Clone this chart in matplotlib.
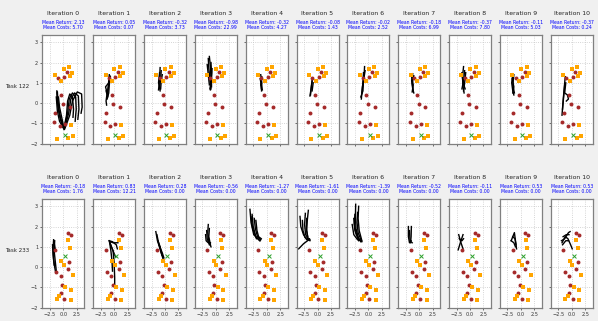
import numpy as np
import matplotlib
matplotlib.use("Agg")
import matplotlib.pyplot as plt

# per-task layout: obstacles (red), hazards (orange), goal (green x)
tasks = ["Task 122", "Task 233"]

red_122 = [(0.68, 1.51), (-0.99, 1.23), (0.19, 1.28), (-0.43, 0.41), (-0.12, -0.05),
           (1.17, -0.21), (-1.48, -0.51), (-1.79, -0.95), (-0.68, -1.15), (0.25, -1.03)]
orange_122 = [(0.06, 1.70), (1.05, 1.80), (-1.6, 1.39), (1.6, 1.48), (1.17, 1.36),
              (-0.37, 1.11), (1.36, -1.1), (-1.17, -1.77), (0.93, -1.7), (1.73, -1.64)]
goal_122 = (0.25, -1.57)

red_233 = [(0.85, 1.69), (1.4, 1.58), (-1.55, 0.85), (1.08, 0.26), (0.83, -0.08),
           (-1.33, -0.26), (-0.5, -0.42), (-0.25, -0.89), (-0.5, -1.26), (0.18, -1.59)]
orange_233 = [(0.87, 1.36), (1.23, 0.92), (-0.4, 0.3), (0.12, 0.1), (1.8, -0.41),
              (0.34, -0.99), (1.42, -1.14), (-0.77, -1.42), (-1.17, -1.59), (1.36, -1.64)]
goal_233 = (0.4, 0.55)

returns_122 = [2.13, 0.05, -0.32, -0.98, -0.32, -0.08, -0.02, -0.18, -0.37, -0.11, -0.37]
costs_122 = [5.70, 0.07, 3.73, 22.99, 4.27, 1.43, 2.52, 6.99, 7.80, 5.03, 0.24]
returns_233 = [-0.18, 0.83, 0.28, -0.56, -1.27, -1.61, -1.39, -0.52, -0.11, 0.53, 0.53]
costs_233 = [1.76, 12.21, 0.00, 0.00, 0.00, 0.00, 0.00, 0.00, 0.00, 0.00, 0.00]

# rollouts, rough hand-traced paths per iteration
traj_122 = [
    [[(0.1, -1.25), (-0.5, -0.8), (-0.9, -0.3), (-1.1, 0.2), (-1.2, 0.6)],
     [(0.0, -1.2), (-0.6, -0.7), (-1.0, -0.1), (-1.15, 0.5)],
     [(0.2, -1.3), (-0.4, -0.9), (-0.8, -0.4), (-1.0, 0.1), (-1.1, 0.55)],
     [(0.1, -1.2), (-0.3, -0.7), (-0.7, -0.2), (-0.9, 0.3)],
     [(0.15, -1.3), (-0.7, -0.9), (-1.1, -0.4), (-1.3, 0.3)],
     [(0.1, -1.25), (0.6, -0.6), (0.8, 0.1), (1.2, 0.45), (1.7, 0.3), (1.9, -0.3), (1.8, -0.7)],
     [(0.2, -1.2), (0.8, -0.5), (1.1, 0.2), (1.7, 0.5), (2.3, 0.3), (2.4, -0.3), (2.2, -0.9)],
     [(0.3, -1.2), (1.0, -0.5), (1.4, 0.2), (2.1, 0.5), (2.8, 0.35), (2.9, -0.3), (2.7, -0.8)],
     [(0.3, -1.25), (1.2, -0.6), (1.7, 0.1), (2.6, 0.55), (3.4, 0.45), (3.5, -0.2), (3.3, -0.5)]],
    [[(-0.8, 1.35), (-1.0, 0.9), (-1.3, 0.5), (-1.5, 0.1), (-1.4, -0.1)],
     [(-0.9, 1.4), (-1.1, 0.8), (-1.2, 0.3), (-1.5, 0.6)],
     [(-0.7, 1.3), (-0.9, 0.9), (-1.0, 0.5), (-1.3, 0.2)],
     [(-1.0, 1.0), (-1.6, 0.8), (-1.3, 0.5)]],
    [[(-0.9, 1.75), (-1.0, 1.3), (-1.1, 0.9), (-1.2, 0.65)],
     [(-0.7, 1.6), (-0.8, 1.2), (-1.0, 0.8), (-0.9, 0.6)],
     [(-0.5, 1.4), (-0.7, 1.1), (-0.8, 0.7)],
     [(-1.0, 1.5), (-1.2, 1.0), (-0.9, 0.7)]],
    [[(-1.4, 2.2), (-1.3, 1.7), (-1.1, 1.2), (-0.9, 0.7)],
     [(-1.2, 2.3), (-1.0, 1.8), (-0.9, 1.2), (-1.0, 0.65)],
     [(-0.9, 2.0), (-0.8, 1.5), (-0.9, 1.0), (-1.1, 0.7)],
     [(-1.6, 1.9), (-1.4, 1.4), (-1.2, 0.9)],
     [(-0.7, 1.7), (-0.8, 1.2), (-0.8, 0.8)]],
    [[(-1.1, 1.4), (-0.9, 1.0), (-0.95, 0.6)],
     [(-1.2, 1.2), (-1.0, 0.9), (-0.8, 0.65)],
     [(-0.9, 1.3), (-1.1, 0.9), (-1.0, 0.7)]],
    [[(-0.9, 1.25), (-1.1, 0.9), (-1.3, 0.4)],
     [(-1.0, 1.1), (-1.2, 0.7), (-1.4, 0.35)],
     [(-0.8, 1.0), (-1.0, 0.6)]],
    [[(-0.7, 1.8), (-0.8, 1.3), (-1.1, 0.8), (-1.3, 0.2)],
     [(-0.9, 1.5), (-1.0, 1.0), (-1.2, 0.5)],
     [(-0.6, 1.6), (-0.9, 1.1), (-1.0, 0.6), (-1.4, 0.3)]],
    [[(-1.2, 1.45), (-1.4, 1.1), (-1.2, 0.7), (-1.0, 0.5)],
     [(-1.0, 1.35), (-1.3, 1.0), (-1.1, 0.6)],
     [(-1.4, 1.3), (-1.1, 0.9), (-1.3, 0.55)]],
    [[(-1.2, 1.8), (-1.4, 1.3), (-1.3, 0.8), (-1.1, 0.5)],
     [(-1.0, 1.6), (-1.2, 1.1), (-1.5, 0.7)],
     [(-0.8, 1.5), (-1.0, 1.0), (-1.2, 0.6)],
     [(-1.5, 1.5), (-1.3, 1.0), (-0.9, 0.7)]],
    [[(-1.5, 1.45), (-1.7, 1.0), (-1.5, 0.6), (-1.3, 0.4)],
     [(-1.3, 1.4), (-1.5, 0.9), (-1.2, 0.5)],
     [(-1.6, 1.2), (-1.3, 0.8), (-1.5, 0.5)]],
    [[(-1.2, 1.3), (-1.4, 0.7), (-1.6, 0.1), (-1.8, -0.6)],
     [(-1.1, 1.0), (-1.3, 0.5), (-0.8, 0.4), (-0.6, 0.2), (-1.0, 0.1)],
     [(-1.3, 0.9), (-1.5, 0.3), (-1.7, -0.3)]],
]

traj_233 = [
    [[(-1.8, 1.35), (-1.9, 0.9), (-1.8, 0.4), (-1.6, 0.0), (-1.4, -0.3)],
     [(-1.6, 1.3), (-1.7, 0.8), (-1.5, 0.3), (-1.3, -0.2)],
     [(-2.0, 1.1), (-1.9, 0.6), (-1.7, 0.1)],
     [(-1.7, 1.2), (-1.5, 0.9)]],
    [[(-0.9, 1.3), (-0.3, 1.25), (0.4, 1.1), (0.6, 0.9)],
     [(-0.9, 1.3), (-0.6, 0.8), (-0.4, 0.3), (-0.3, -0.2)],
     [(-0.8, 1.2), (-0.2, 0.8), (0.0, 0.2), (0.1, -0.5), (0.1, -0.95)],
     [(-0.9, 1.3), (-0.5, 1.0), (0.1, 0.6), (0.3, 0.5)],
     [(-0.7, 1.25), (-0.2, 1.2), (0.7, 1.2)]],
    [[(-1.7, 1.75), (-1.4, 1.3), (-0.9, 0.9), (-0.4, 0.5)],
     [(-1.5, 1.6), (-1.2, 1.2), (-0.8, 0.8), (-0.3, 0.35)],
     [(-1.3, 1.3), (-0.9, 1.0), (-0.6, 0.6)],
     [(-1.1, 1.1), (-0.5, 0.7), (-0.2, 0.45)]],
    [[(-1.4, 2.1), (-1.5, 1.7), (-1.3, 1.3), (-0.9, 1.0)],
     [(-1.7, 1.8), (-1.6, 1.4), (-1.2, 1.1)],
     [(-1.9, 1.6), (-1.8, 1.3), (-1.4, 1.2), (-1.0, 1.2)],
     [(-1.2, 1.9), (-1.3, 1.5), (-1.0, 1.1)]],
    [[(-3.1, 2.85), (-2.9, 2.2), (-2.4, 1.6), (-1.3, 1.3)],
     [(-2.7, 2.6), (-2.5, 2.0), (-2.0, 1.5), (-1.2, 1.3)],
     [(-2.3, 2.4), (-2.1, 1.9), (-1.7, 1.5), (-1.1, 1.35)],
     [(-2.0, 2.3), (-1.8, 1.8), (-1.5, 1.5), (-1.0, 1.4)],
     [(-2.9, 2.5), (-2.6, 1.9), (-1.9, 1.4)]],
    [[(-3.25, 2.5), (-3.1, 2.0), (-2.6, 1.6), (-2.0, 1.35), (-1.4, 1.35)],
     [(-2.25, 2.65), (-2.4, 2.1), (-2.2, 1.6), (-1.6, 1.35)],
     [(-1.7, 2.8), (-1.9, 2.3), (-2.0, 1.8), (-1.8, 1.4), (-1.4, 1.3)],
     [(-2.8, 2.3), (-2.7, 1.8), (-2.3, 1.45), (-1.5, 1.4)],
     [(-1.6, 1.35), (-2.6, 1.15), (-3.5, 0.9)],
     [(-2.0, 2.4), (-2.1, 1.9), (-1.8, 1.5)]],
    [[(-2.35, 3.1), (-2.4, 2.5), (-2.3, 1.9), (-1.8, 1.4), (-1.2, 1.25)],
     [(-2.5, 2.6), (-2.6, 2.1), (-2.2, 1.6), (-1.4, 1.25)],
     [(-3.0, 2.1), (-2.7, 1.6), (-2.0, 1.35), (-1.3, 1.3)],
     [(-2.0, 2.7), (-2.1, 2.2), (-1.9, 1.7), (-1.3, 1.3)],
     [(-2.7, 2.4), (-2.5, 1.8), (-1.8, 1.3)],
     [(-1.8, 3.0), (-1.9, 2.4), (-1.7, 1.8), (-1.2, 1.3)]],
    [[(-2.0, 2.0), (-2.0, 1.5), (-1.8, 1.2), (-1.5, 1.3)],
     [(-1.45, 2.0), (-1.5, 1.5), (-1.6, 1.2)],
     [(-1.8, 1.8), (-1.7, 1.3), (-1.3, 1.2)]],
    [[(-2.1, 1.6), (-1.8, 1.3), (-1.3, 0.9)],
     [(-1.3, 1.6), (-1.8, 1.2), (-2.2, 0.85)],
     [(-2.0, 1.4), (-1.5, 1.3), (-1.2, 1.4)]],
    [[(-1.8, 1.3), (-1.2, 1.7), (-1.0, 1.3), (-0.8, 0.9)],
     [(-1.8, 1.3), (-1.3, 1.2), (-1.0, 1.0)],
     [(-1.5, 1.5), (-1.1, 1.4), (-0.9, 1.1)]],
    [[(-1.9, 1.3), (-1.3, 1.4), (-0.6, 1.7), (-0.3, 1.75)],
     [(-1.8, 1.2), (-1.2, 1.5), (-0.7, 1.4), (-0.2, 1.1), (0.1, 0.9)],
     [(-1.6, 1.5), (-1.0, 1.6), (-0.5, 1.6)],
     [(-1.7, 1.1), (-1.1, 1.3), (-0.6, 1.3)]],
]

rows = [
    (red_122, orange_122, goal_122, returns_122, costs_122, traj_122),
    (red_233, orange_233, goal_233, returns_233, costs_233, traj_233),
]

W, H = 598, 321
fig = plt.figure(figsize=(W / 100, H / 100), dpi=100, facecolor="#f0f0f0")

col_left = 42.3
col_step = 50.84
ax_w = 42
row_top = [35, 199]
ax_h = 109

for r, (red, orange, goal, rets, costs, trajs) in enumerate(rows):
    for i in range(11):
        left = (col_left + i * col_step) / W
        bottom = 1 - (row_top[r] + ax_h) / H
        ax = fig.add_axes([left, bottom, ax_w / W, ax_h / H])
        ax.set_facecolor("white")
        for t in trajs[i]:
            t = np.array(t)
            ax.plot(t[:, 0], t[:, 1], color="black", lw=1.0, zorder=2)
        rd = np.array(red)
        og = np.array(orange)
        ax.scatter(rd[:, 0], rd[:, 1], s=8, color="#a52a2a", zorder=3, linewidths=0)
        ax.scatter(og[:, 0], og[:, 1], s=10, marker="s", color="#ffa500", zorder=3, linewidths=0)
        ax.scatter([goal[0]], [goal[1]], s=8, marker="x", color="#2ca02c", zorder=4, linewidths=0.7)
        ax.set_xlim(-3.9, 3.9)
        ax.set_ylim(-2.02, 3.36)
        ax.set_xticks([-2.5, 0.0, 2.5])
        ax.set_yticks([-2, -1, 0, 1, 2, 3])
        ax.grid(True, linestyle=":", color="#c8c8c8", lw=0.6)
        ax.set_axisbelow(True)
        ax.tick_params(labelsize=3.6, length=1.5, width=0.5, pad=1.5, colors="#333333")
        if r == 0:
            ax.tick_params(labelbottom=False)
        if i != 0:
            ax.tick_params(labelleft=False)
        for sp in ax.spines.values():
            sp.set_color("#808080")
            sp.set_linewidth(0.9)
        ax.text(0.5, 1.197, "Iteration %d" % i, transform=ax.transAxes,
                ha="center", va="center", fontsize=4.4, color="#222222")
        ax.text(0.5, 1.093, "Mean Return: %.2f\nMean Costs: %.2f" % (rets[i], costs[i]),
                transform=ax.transAxes, ha="center", va="center", fontsize=3.3,
                color="blue", linespacing=1.15)

fig.text(16.7 / W, 1 - 86.7 / H, tasks[0], ha="center", va="center", fontsize=4.0, color="#222222")
fig.text(16.7 / W, 1 - 250 / H, tasks[1], ha="center", va="center", fontsize=4.0, color="#222222")

fig.savefig("out.png", dpi=100, facecolor=fig.get_facecolor())
